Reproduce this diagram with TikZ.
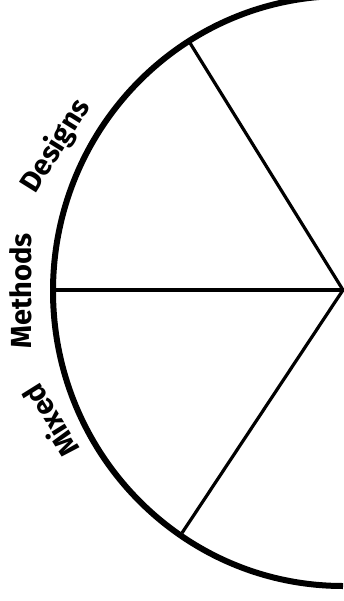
\documentclass[tikz,border=0pt]{standalone}
\usepackage{fontspec}
\setmainfont{Fira Sans}
\begin{document}
\begin{tikzpicture}[x=1pt,y=-1pt,
  rim/.style={line width=6pt},
  spoke/.style={line width=3.2pt},
  lbl/.style={font=\fontsize{29}{29}\selectfont\bfseries, inner sep=0pt}]
\useasboundingbox (0,0) rectangle (344,601);
\coordinate (c) at (343,290);
\coordinate (top) at (343,-4);
\coordinate (pu) at (190,43);
\coordinate (pm) at (54,290);
\coordinate (pl) at (182,533);
\draw[rim] (top) arc[start angle=-90, end angle=-270, x radius=290, y radius=295];
\draw[spoke, line join=miter] (pu) -- (c) -- (pl);
\draw[spoke] (pm) -- (c);
\node[lbl, rotate=58] (designs) at (56,146) {Designs};
\node[lbl, rotate=90] (methods) at (21,291) {Methods};
\node[lbl, rotate=122] (mixed) at (50,421) {Mixed};
\end{tikzpicture}
\end{document}
